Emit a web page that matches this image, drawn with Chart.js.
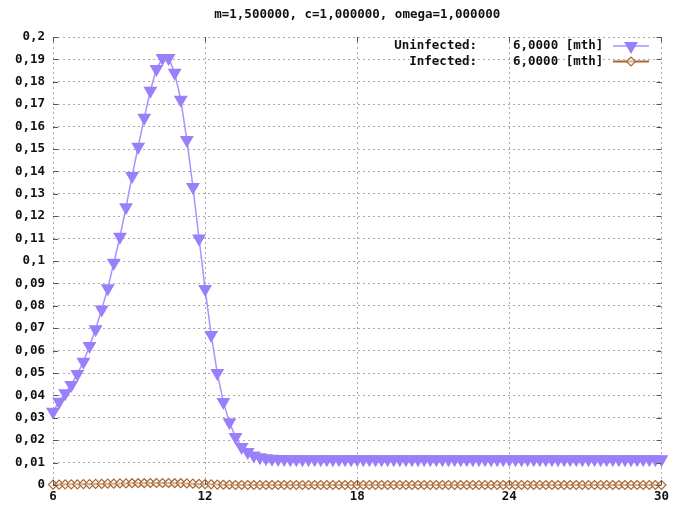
<!DOCTYPE html>
<html>
<head>
<meta charset="utf-8">
<script src="https://cdn.jsdelivr.net/npm/chart.js@4.4.0/dist/chart.umd.min.js"></script>
<style>
  html, body { margin: 0; padding: 0; background: #fff; }
  #wrap { width: 673px; height: 508px; }
</style>
</head>
<body>
<div id="wrap"><canvas id="grafico" width="673" height="508"></canvas></div>
<script>
// Dados do grafico
var titleText = 'm=1,500000, c=1,000000, omega=1,000000';
var seriesNames = ['Uninfected:', 'Infected:'];
var seriesNotes = ['6,0000 [mth]', '6,0000 [mth]'];

var timeValues = [
    6.00, 6.24, 6.48, 6.72, 6.96, 7.20, 7.44, 7.68, 7.92, 8.16, 8.40, 8.64, 8.88, 9.12, 9.36, 9.60, 9.84, 10.08, 10.32, 10.56, 10.80, 11.04, 11.28, 11.52, 11.76,
    12.00, 12.24, 12.48, 12.72, 12.96, 13.20, 13.44, 13.68, 13.92, 14.16, 14.40, 14.64, 14.88, 15.12, 15.36, 15.60, 15.84, 16.08, 16.32, 16.56, 16.80, 17.04, 17.28, 17.52, 17.76,
    18.00, 18.24, 18.48, 18.72, 18.96, 19.20, 19.44, 19.68, 19.92, 20.16, 20.40, 20.64, 20.88, 21.12, 21.36, 21.60, 21.84, 22.08, 22.32, 22.56, 22.80, 23.04, 23.28, 23.52, 23.76,
    24.00, 24.24, 24.48, 24.72, 24.96, 25.20, 25.44, 25.68, 25.92, 26.16, 26.40, 26.64, 26.88, 27.12, 27.36, 27.60, 27.84, 28.08, 28.32, 28.56, 28.80, 29.04, 29.28, 29.52, 29.76, 30.00
];

var uninfectedValues = [
    0.0327, 0.0372, 0.0410, 0.0446, 0.0496, 0.0550, 0.0620, 0.0695, 0.0784, 0.0878, 0.0992, 0.1108, 0.1240, 0.1380, 0.1510, 0.1640, 0.1760, 0.1857, 0.1906, 0.1906, 0.1840, 0.1720, 0.1540, 0.1330, 0.1100,
    0.0875, 0.0670, 0.0500, 0.0370, 0.0280, 0.0214, 0.0170, 0.0147, 0.0132, 0.0124, 0.0119, 0.0117, 0.0116, 0.0116, 0.0115, 0.0115, 0.0115, 0.0115, 0.0115, 0.0115, 0.0115, 0.0115, 0.0115, 0.0115, 0.0115,
    0.0115, 0.0115, 0.0115, 0.0115, 0.0115, 0.0115, 0.0115, 0.0115, 0.0115, 0.0115, 0.0115, 0.0115, 0.0115, 0.0115, 0.0115, 0.0115, 0.0115, 0.0115, 0.0115, 0.0115, 0.0115, 0.0115, 0.0115, 0.0115, 0.0115,
    0.0115, 0.0115, 0.0115, 0.0115, 0.0115, 0.0115, 0.0115, 0.0115, 0.0115, 0.0115, 0.0115, 0.0115, 0.0115, 0.0115, 0.0115, 0.0115, 0.0115, 0.0115, 0.0115, 0.0115, 0.0115, 0.0115, 0.0115, 0.0115, 0.0115, 0.0115
];

var infectedValues = [
    0.0002, 0.0002, 0.0003, 0.0003, 0.0003, 0.0004, 0.0004, 0.0005, 0.0005, 0.0006, 0.0006, 0.0007, 0.0007, 0.0008, 0.0008, 0.0008, 0.0009, 0.0009, 0.0009, 0.0009, 0.0008, 0.0008, 0.0007, 0.0006, 0.0005,
    0.0004, 0.0003, 0.0002, 0.0001, 0.0001, 0, 0, 0, 0, 0, 0, 0, 0, 0, 0, 0, 0, 0, 0, 0, 0, 0, 0, 0, 0,
    0, 0, 0, 0, 0, 0, 0, 0, 0, 0, 0, 0, 0, 0, 0, 0, 0, 0, 0, 0, 0, 0, 0, 0, 0,
    0, 0, 0, 0, 0, 0, 0, 0, 0, 0, 0, 0, 0, 0, 0, 0, 0, 0, 0, 0, 0, 0, 0, 0, 0, 0
];

var xTicks = [6, 12, 18, 24, 30];
var yMin = 0, yMax = 0.2, yStep = 0.01;

// Estilos
var purpleLine = '#a992ff';
var purpleMark = '#9a7ffa';
var brown = '#a9652f';
var fontMono = "'DejaVu Sans Mono', 'Liberation Mono', monospace";
var textFont = { family: fontMono, size: 12.5, weight: 'bold' };

var toPoints = function(values) {
    return timeValues.map(function(t, i) { return { x: t, y: values[i] }; });
}

// Marcas curtas nos eixos e legenda estilo gnuplot
var gnuplotDecor = {
    id: 'gnuplotDecor',
    afterDraw: function(chart) {
        var ctx = chart.ctx;
        var area = chart.chartArea;
        var xs = chart.scales.x, ys = chart.scales.y;
        ctx.save();
        ctx.strokeStyle = '#555';
        ctx.lineWidth = 1;
        ctx.beginPath();
        ys.ticks.forEach(function(t) {
            var py = Math.round(ys.getPixelForValue(t.value)) + 0.5;
            ctx.moveTo(area.left, py); ctx.lineTo(area.left + 5, py);
            ctx.moveTo(area.right, py); ctx.lineTo(area.right - 5, py);
        });
        xs.ticks.forEach(function(t) {
            var px = Math.round(xs.getPixelForValue(t.value)) + 0.5;
            ctx.moveTo(px, area.bottom); ctx.lineTo(px, area.bottom - 5);
            ctx.moveTo(px, area.top); ctx.lineTo(px, area.top + 5);
        });
        ctx.stroke();

        // legenda
        ctx.font = 'bold 12.5px ' + fontMono;
        ctx.textBaseline = 'middle';
        var rows = [46, 61.5];
        chart.data.datasets.forEach(function(ds, i) {
            var y = rows[i];
            ctx.fillStyle = '#111';
            ctx.textAlign = 'right';
            ctx.fillText(seriesNames[i], 477, y);
            ctx.textAlign = 'left';
            ctx.fillText(seriesNotes[i], 513, y);
            ctx.strokeStyle = ds.borderColor;
            ctx.lineWidth = ds.borderWidth;
            ctx.beginPath();
            ctx.moveTo(613, y); ctx.lineTo(649, y);
            ctx.stroke();
            ctx.fillStyle = ds.pointBackgroundColor;
            ctx.strokeStyle = ds.pointBorderColor;
            ctx.lineWidth = ds.pointBorderWidth;
            Chart.helpers.drawPoint(ctx, {
                pointStyle: ds.pointStyle,
                rotation: ds.pointRotation || 0,
                radius: ds.pointRadius,
                borderWidth: ds.pointBorderWidth
            }, 631, y);
        });
        ctx.restore();
    }
};

var createChart = function() {
    var context = document.getElementById('grafico').getContext('2d');
    var chart = new Chart(context, {
        type: 'scatter',
        data: {
            datasets: [{
                label: seriesNames[0],
                data: toPoints(uninfectedValues),
                showLine: true,
                borderColor: purpleLine,
                borderWidth: 1.5,
                pointStyle: 'triangle',
                pointRotation: 180,
                pointRadius: 8,
                pointBackgroundColor: purpleMark,
                pointBorderColor: purpleMark,
                pointBorderWidth: 0,
                clip: false
            }, {
                label: seriesNames[1],
                data: toPoints(infectedValues),
                showLine: true,
                borderColor: brown,
                borderWidth: 2,
                pointStyle: 'rectRot',
                pointRadius: 4.5,
                pointBackgroundColor: 'rgba(255,255,255,0.5)',
                pointBorderColor: brown,
                pointBorderWidth: 1.2,
                clip: false
            }]
        },
        options: {
            responsive: false,
            animation: false,
            layout: { padding: { left: 0, right: 8, top: 0, bottom: 0 } },
            plugins: {
                legend: { display: false },
                tooltip: { enabled: false },
                title: {
                    display: true,
                    text: titleText,
                    fullSize: false,
                    color: '#111',
                    font: textFont,
                    padding: { top: 7, bottom: 15 }
                }
            },
            scales: {
                x: {
                    type: 'linear',
                    min: xTicks[0],
                    max: xTicks[xTicks.length - 1],
                    afterBuildTicks: function(scale) {
                        scale.ticks = xTicks.map(function(v) { return { value: v }; });
                    },
                    afterFit: function(scale) { scale.height = 23; },
                    grid: { color: '#aaa', drawTicks: false },
                    border: { display: false, dash: [2, 3] },
                    ticks: { color: '#111', font: textFont, padding: 4, maxRotation: 0 }
                },
                y: {
                    min: yMin,
                    max: yMax,
                    afterFit: function(scale) { scale.width = 53; },
                    grid: { color: '#aaa', drawTicks: false },
                    border: { display: false, dash: [2, 3] },
                    ticks: {
                        stepSize: yStep,
                        color: '#111',
                        font: textFont,
                        padding: 8,
                        callback: function(v) {
                            return String(Math.round(v * 100) / 100).replace('.', ',');
                        }
                    }
                }
            }
        },
        plugins: [gnuplotDecor]
    });
    return chart;
}

createChart();
</script>
</body>
</html>
